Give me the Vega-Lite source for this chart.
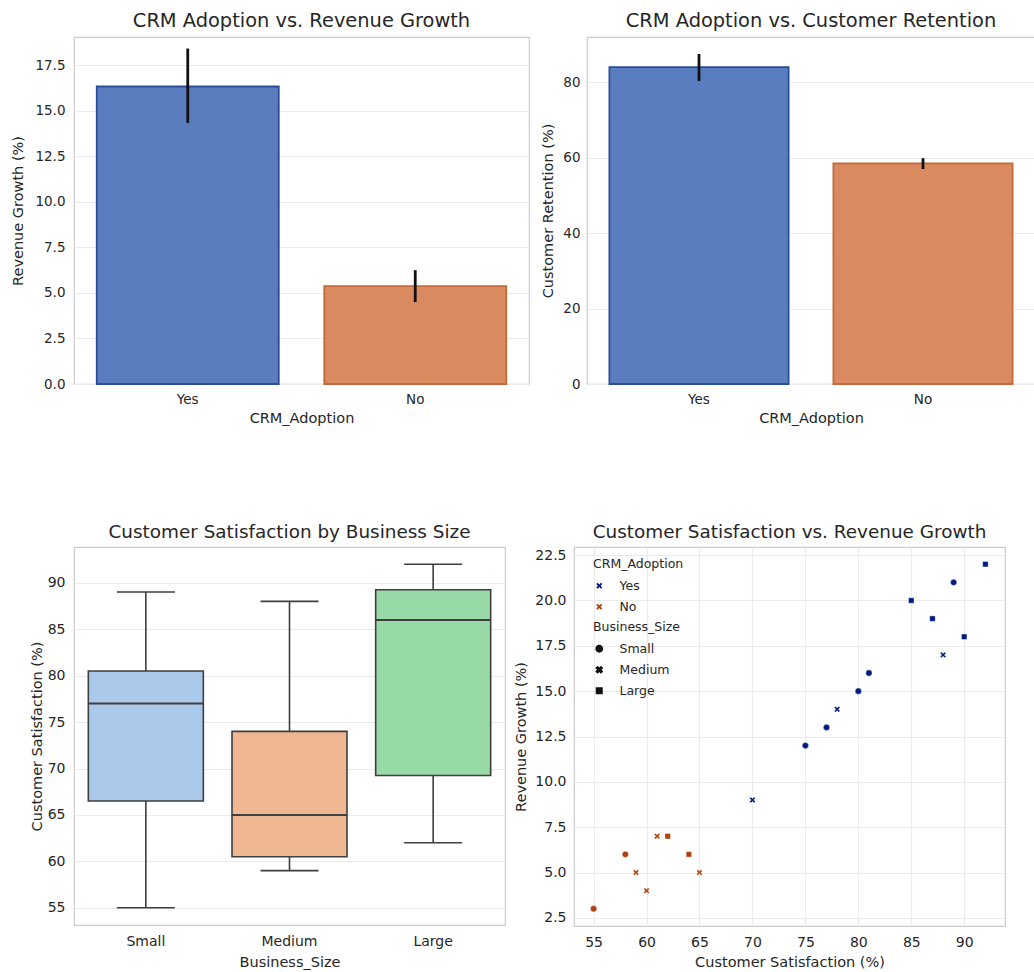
{
  "$schema": "https://vega.github.io/schema/vega-lite/v6.json",
  "background": "white",
  "padding": {"left": 3, "top": 10, "right": 0, "bottom": 0},
  "config": {
    "font": "DejaVu Sans",
    "view": {"stroke": "#cccccc", "strokeWidth": 1.2},
    "axis": {
      "labelFontSize": 13.5, "titleFontSize": 14.5, "titleFontWeight": "normal",
      "labelColor": "#262626", "titleColor": "#262626",
      "domain": false, "ticks": false, "gridColor": "#ebebeb", "gridWidth": 1.2,
      "labelPadding": 8, "titlePadding": 6
    },
    "title": {"fontSize": 19.4, "fontWeight": "normal", "color": "#262626", "offset": 6},
    "legend": {"labelFontSize": 12.5, "titleFontSize": 12.5, "titleFontWeight": "normal", "labelColor": "#262626", "titleColor": "#262626"}
  },
  "datasets": {
    "crm": [
      {"CRM_Adoption": "Yes", "Business_Size": "Small", "Customer_Satisfaction": 75, "Revenue_Growth": 12, "Customer_Retention": 76},
      {"CRM_Adoption": "Yes", "Business_Size": "Small", "Customer_Satisfaction": 77, "Revenue_Growth": 13, "Customer_Retention": 78},
      {"CRM_Adoption": "Yes", "Business_Size": "Small", "Customer_Satisfaction": 80, "Revenue_Growth": 15, "Customer_Retention": 82},
      {"CRM_Adoption": "Yes", "Business_Size": "Small", "Customer_Satisfaction": 81, "Revenue_Growth": 16, "Customer_Retention": 84},
      {"CRM_Adoption": "Yes", "Business_Size": "Small", "Customer_Satisfaction": 89, "Revenue_Growth": 21, "Customer_Retention": 90},
      {"CRM_Adoption": "Yes", "Business_Size": "Medium", "Customer_Satisfaction": 70, "Revenue_Growth": 9, "Customer_Retention": 72},
      {"CRM_Adoption": "Yes", "Business_Size": "Medium", "Customer_Satisfaction": 78, "Revenue_Growth": 14, "Customer_Retention": 80},
      {"CRM_Adoption": "Yes", "Business_Size": "Medium", "Customer_Satisfaction": 88, "Revenue_Growth": 17, "Customer_Retention": 85},
      {"CRM_Adoption": "Yes", "Business_Size": "Large", "Customer_Satisfaction": 85, "Revenue_Growth": 20, "Customer_Retention": 88},
      {"CRM_Adoption": "Yes", "Business_Size": "Large", "Customer_Satisfaction": 87, "Revenue_Growth": 19, "Customer_Retention": 86},
      {"CRM_Adoption": "Yes", "Business_Size": "Large", "Customer_Satisfaction": 90, "Revenue_Growth": 18, "Customer_Retention": 92},
      {"CRM_Adoption": "Yes", "Business_Size": "Large", "Customer_Satisfaction": 92, "Revenue_Growth": 22, "Customer_Retention": 95},
      {"CRM_Adoption": "No", "Business_Size": "Small", "Customer_Satisfaction": 55, "Revenue_Growth": 3, "Customer_Retention": 55},
      {"CRM_Adoption": "No", "Business_Size": "Small", "Customer_Satisfaction": 58, "Revenue_Growth": 6, "Customer_Retention": 58},
      {"CRM_Adoption": "No", "Business_Size": "Medium", "Customer_Satisfaction": 59, "Revenue_Growth": 5, "Customer_Retention": 56},
      {"CRM_Adoption": "No", "Business_Size": "Medium", "Customer_Satisfaction": 60, "Revenue_Growth": 4, "Customer_Retention": 59},
      {"CRM_Adoption": "No", "Business_Size": "Medium", "Customer_Satisfaction": 61, "Revenue_Growth": 7, "Customer_Retention": 60},
      {"CRM_Adoption": "No", "Business_Size": "Medium", "Customer_Satisfaction": 65, "Revenue_Growth": 5, "Customer_Retention": 58},
      {"CRM_Adoption": "No", "Business_Size": "Large", "Customer_Satisfaction": 62, "Revenue_Growth": 7, "Customer_Retention": 62},
      {"CRM_Adoption": "No", "Business_Size": "Large", "Customer_Satisfaction": 64, "Revenue_Growth": 6, "Customer_Retention": 60}
    ]
  },
  "spacing": 96,
  "resolve": {"scale": {"color": "independent", "fill": "independent", "stroke": "independent", "shape": "independent", "size": "independent"}},
  "vconcat": [
    {
      "bounds": "flush",
      "spacing": 58,
      "resolve": {"scale": {"color": "independent", "fill": "independent", "stroke": "independent", "shape": "independent", "size": "independent"}},
      "hconcat": [
        {
          "title": "CRM Adoption vs. Revenue Growth",
          "width": 455, "height": 347,
          "data": {"name": "crm"},
          "layer": [
            {
              "mark": {"type": "bar", "strokeWidth": 1.8},
              "encoding": {
                "x": {"field": "CRM_Adoption", "type": "nominal", "sort": ["Yes", "No"], "scale": {"paddingInner": 0.2, "paddingOuter": 0.1}, "axis": {"labelAngle": 0, "title": "CRM_Adoption"}},
                "y": {"aggregate": "mean", "field": "Revenue_Growth", "type": "quantitative", "title": "Revenue Growth (%)", "scale": {"domain": [0, 19.05], "nice": false}, "axis": {"values": [0, 2.5, 5, 7.5, 10, 12.5, 15, 17.5], "format": ".1f", "grid": true, "minExtent": 70, "maxExtent": 70, "titleX": -49, "labelPadding": 9}},
                "fill": {"field": "CRM_Adoption", "type": "nominal", "scale": {"domain": ["Yes", "No"], "range": ["#597dbf", "#d98b5f"]}, "legend": null},
                "stroke": {"field": "CRM_Adoption", "type": "nominal", "scale": {"domain": ["Yes", "No"], "range": ["#2c4c9c", "#c46a3c"]}, "legend": null}
              }
            },
            {
              "mark": {"type": "errorbar", "extent": "ci", "thickness": 2.8, "color": "#111111"},
              "encoding": {
                "x": {"field": "CRM_Adoption", "type": "nominal", "sort": ["Yes", "No"]},
                "y": {"field": "Revenue_Growth", "type": "quantitative", "title": "Revenue Growth (%)"}
              }
            }
          ]
        },
        {
          "title": "CRM Adoption vs. Customer Retention",
          "width": 448, "height": 347,
          "data": {"name": "crm"},
          "layer": [
            {
              "mark": {"type": "bar", "strokeWidth": 1.8},
              "encoding": {
                "x": {"field": "CRM_Adoption", "type": "nominal", "sort": ["Yes", "No"], "scale": {"paddingInner": 0.2, "paddingOuter": 0.1}, "axis": {"labelAngle": 0, "title": "CRM_Adoption"}},
                "y": {"aggregate": "mean", "field": "Customer_Retention", "type": "quantitative", "title": "Customer Retention (%)", "scale": {"domain": [0, 92], "nice": false}, "axis": {"values": [0, 20, 40, 60, 80], "grid": true, "labelPadding": 7, "titlePadding": 7}},
                "fill": {"field": "CRM_Adoption", "type": "nominal", "scale": {"domain": ["Yes", "No"], "range": ["#597dbf", "#d98b5f"]}, "legend": null},
                "stroke": {"field": "CRM_Adoption", "type": "nominal", "scale": {"domain": ["Yes", "No"], "range": ["#2c4c9c", "#c46a3c"]}, "legend": null}
              }
            },
            {
              "mark": {"type": "errorbar", "extent": "ci", "thickness": 2.8, "color": "#111111"},
              "encoding": {
                "x": {"field": "CRM_Adoption", "type": "nominal", "sort": ["Yes", "No"]},
                "y": {"field": "Customer_Retention", "type": "quantitative", "title": "Customer Retention (%)"}
              }
            }
          ]
        }
      ]
    },
    {
      "bounds": "flush",
      "spacing": 69,
      "resolve": {"scale": {"color": "independent", "fill": "independent", "stroke": "independent", "shape": "independent", "size": "independent"}},
      "hconcat": [
        {
          "title": {"text": "Customer Satisfaction by Business Size", "fontSize": 18.4},
          "width": 431, "height": 378,
          "data": {"name": "crm"},
          "mark": {
            "type": "boxplot", "extent": "min-max", "size": 115,
            "box": {"stroke": "#3f3f3f", "strokeWidth": 1.6},
            "median": {"color": "#3f3f3f", "opacity": 1, "thickness": 2},
            "rule": {"color": "#3f3f3f", "strokeWidth": 1.6},
            "ticks": {"color": "#3f3f3f", "opacity": 1, "size": 58, "thickness": 1.6}
          },
          "encoding": {
            "x": {"field": "Business_Size", "type": "nominal", "sort": ["Small", "Medium", "Large"], "axis": {"labelAngle": 0, "title": "Business_Size", "labelFontSize": 14, "labelPadding": 9, "titlePadding": 7}},
            "y": {"field": "Customer_Satisfaction", "type": "quantitative", "title": "Customer Satisfaction (%)", "scale": {"domain": [53.15, 93.85], "nice": false, "zero": false}, "axis": {"values": [55, 60, 65, 70, 75, 80, 85, 90], "grid": true, "labelFontSize": 14, "minExtent": 70, "maxExtent": 70, "titleX": -30, "labelPadding": 9}},
            "color": {"field": "Business_Size", "type": "nominal", "scale": {"domain": ["Small", "Medium", "Large"], "range": ["#abc9ea", "#efb792", "#98daa7"]}, "legend": null}
          }
        },
        {
          "title": {"text": "Customer Satisfaction vs. Revenue Growth", "fontSize": 18.4},
          "width": 431, "height": 379,
          "data": {"name": "crm"},
          "mark": {"type": "point", "filled": true, "opacity": 1, "stroke": "white", "strokeWidth": 0.4},
          "encoding": {
            "x": {"field": "Customer_Satisfaction", "type": "quantitative", "title": "Customer Satisfaction (%)", "scale": {"domain": [53.15, 93.85], "nice": false, "zero": false}, "axis": {"values": [55, 60, 65, 70, 75, 80, 85, 90], "grid": true, "labelFontSize": 14, "labelPadding": 9, "titlePadding": 6}},
            "y": {"field": "Revenue_Growth", "type": "quantitative", "title": "Revenue Growth (%)", "scale": {"domain": [2.05, 22.95], "nice": false, "zero": false}, "axis": {"values": [2.5, 5, 7.5, 10, 12.5, 15, 17.5, 20, 22.5], "format": ".1f", "grid": true, "labelFontSize": 14}},
            "color": {"field": "CRM_Adoption", "type": "nominal", "title": "CRM_Adoption", "scale": {"domain": ["Yes", "No"], "range": ["#001c7f", "#b1400d"]},
              "legend": {"orient": "none", "legendX": 19, "legendY": 11, "symbolType": "M-1,-0.55L-0.55,-1L0,-0.45L0.55,-1L1,-0.55L0.45,0L1,0.55L0.55,1L0,0.45L-0.55,1L-1,0.55L-0.45,0Z", "symbolSize": 36, "rowPadding": 8, "titlePadding": 9, "labelOffset": 14, "symbolStrokeWidth": 0}},
            "shape": {"field": "Business_Size", "type": "nominal", "title": "Business_Size", "scale": {"domain": ["Small", "Medium", "Large"], "range": ["circle", "M-1,-0.55L-0.55,-1L0,-0.45L0.55,-1L1,-0.55L0.45,0L1,0.55L0.55,1L0,0.45L-0.55,1L-1,0.55L-0.45,0Z", "square"]},
              "legend": {"orient": "none", "legendX": 19, "legendY": 74, "symbolFillColor": "#111111", "symbolStrokeColor": "#111111", "rowPadding": 8, "titlePadding": 9, "labelOffset": 14}},
            "size": {"field": "Business_Size", "type": "nominal", "title": "Business_Size", "scale": {"domain": ["Small", "Medium", "Large"], "range": [40, 30, 20]},
              "legend": {"orient": "none", "legendX": 19, "legendY": 74, "symbolFillColor": "#111111", "symbolStrokeColor": "#111111", "rowPadding": 8, "titlePadding": 9, "labelOffset": 14}}
          }
        }
      ]
    }
  ]
}
